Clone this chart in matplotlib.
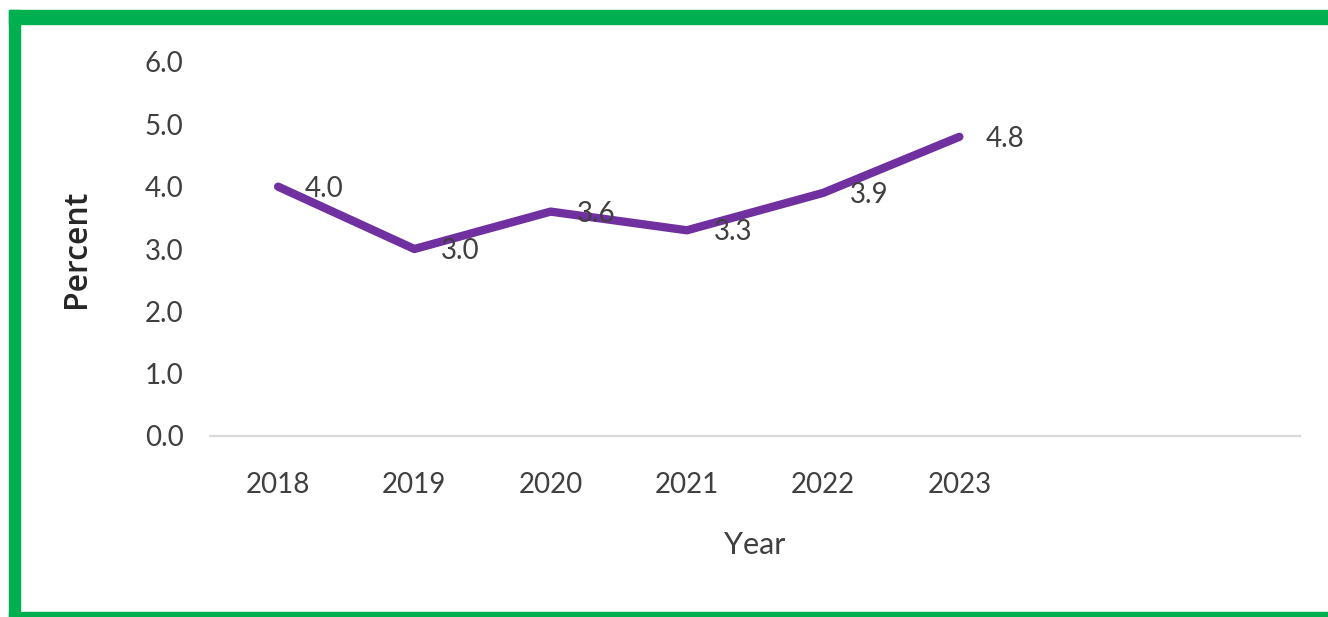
import matplotlib
matplotlib.use("Agg")
import matplotlib.pyplot as plt
from matplotlib.patches import Rectangle
from matplotlib import font_manager

years = ["2018", "2019", "2020", "2021", "2022", "2023"]
values = [4.0, 3.0, 3.6, 3.3, 3.9, 4.8]
yticks = [0.0, 1.0, 2.0, 3.0, 4.0, 5.0, 6.0]

avail = {f.name for f in font_manager.fontManager.ttflist}
narrow = "Lato" if "Lato" in avail else "DejaVu Sans"
label_font = "Open Sans" if "Open Sans" in avail else "DejaVu Sans"

W, H = 1328, 617
fig = plt.figure(figsize=(W / 100, H / 100), dpi=100)
fig.patch.set_facecolor("white")

ax = fig.add_axes([210 / W, (H - 436) / H, 1090 / W, (436 - 62) / H])
x = list(range(len(years)))
ax.plot(x, values, color="#7030A0", linewidth=6, solid_capstyle="round",
        solid_joinstyle="round", zorder=3)

for xi, v in zip(x, values):
    ax.annotate(f"{v:.1f}", (xi, v), xytext=(33, -1.5), textcoords="offset points",
                ha="center", va="center", fontsize=20, color="#404040",
                family=narrow, zorder=4)

ax.set_xlim(-0.5, 7.5)
ax.set_ylim(0, 6)
ax.set_yticks(yticks)
ax.set_yticklabels([f"{t:.1f}" for t in yticks])
ax.set_xticks(x)
ax.set_xticklabels(years)
ax.tick_params(axis="both", length=0, labelsize=20, labelcolor="#404040")
ax.tick_params(axis="y", pad=19)
ax.tick_params(axis="x", pad=26)
for lab in ax.get_xticklabels() + ax.get_yticklabels():
    lab.set_family(narrow)

for s in ["top", "right", "left"]:
    ax.spines[s].set_visible(False)
ax.spines["bottom"].set_color("#D9D9D9")
ax.spines["bottom"].set_linewidth(1.6)
ax.set_facecolor("none")

ax.set_xlabel("Year", fontsize=22, color="#404040", family=narrow, labelpad=24)
fig.text(77 / W, (H - 249) / H, "Percent", rotation=90, ha="center", va="center",
         fontsize=23, color="#262626", family=label_font, fontweight="semibold")

green = "#00B050"
fig.patches.append(Rectangle((9 / W, 0), 11 / W, (H - 10) / H, transform=fig.transFigure,
                             color=green, zorder=10))
fig.patches.append(Rectangle((9 / W, (H - 24) / H), 1.0, 14 / H, transform=fig.transFigure,
                             color=green, zorder=10))
fig.patches.append(Rectangle((9 / W, 0), 1.0, 5 / H, transform=fig.transFigure,
                             color=green, zorder=10))

fig.savefig("out.png", dpi=100, facecolor="white")
